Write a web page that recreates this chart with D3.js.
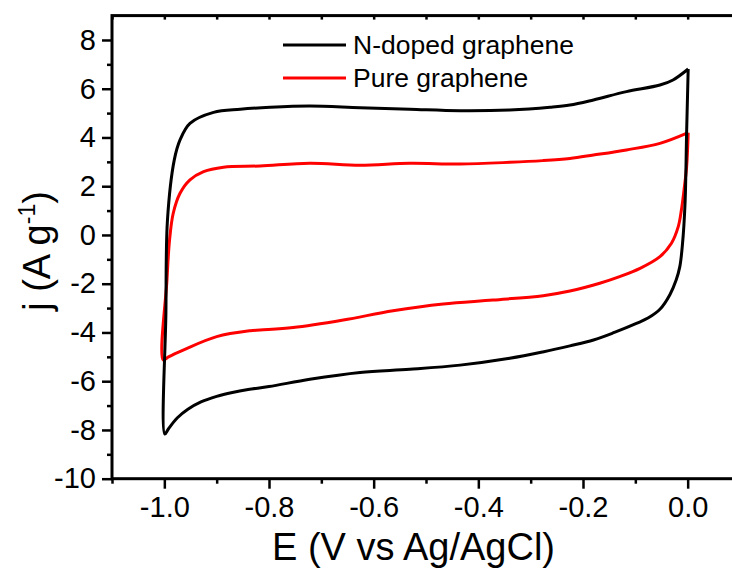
<!DOCTYPE html>
<html>
<head>
<meta charset="utf-8">
<script src="https://cdn.jsdelivr.net/npm/d3@7"></script>
<style>
  html, body { margin: 0; padding: 0; background: #fff; }
  svg { display: block; }
  text { font-family: "Liberation Sans", Arial, sans-serif; fill: #000; }
</style>
</head>
<body>
<svg id="chart" width="732" height="569"></svg>
<script>
// ---- data (E in V vs Ag/AgCl, j in A/g) ----
const seriesNames = ["N-doped graphene", "Pure graphene"];
const seriesColors = ["#000000", "#ff0000"];

const nDopedE = [0.001, -0.002, -0.005, -0.010, -0.015, -0.022, -0.034, -0.053, -0.075, -0.098, -0.14, -0.18, -0.225, -0.277, -0.34, -0.435, -0.531, -0.626, -0.722, -0.80, -0.84, -0.87, -0.9, -0.93, -0.955, -0.975, -0.992, -0.999, -0.997, -0.994, -0.981, -0.970, -0.951, -0.906, -0.855, -0.798, -0.722, -0.626, -0.531, -0.435, -0.340, -0.263, -0.225, -0.18, -0.117, -0.053, -0.028, 0.001];
const nDopedJ = [6.81, 4.2, 1.3, -0.4, -1.3, -1.85, -2.45, -3.05, -3.4, -3.63, -4.0, -4.31, -4.55, -4.8, -5.06, -5.34, -5.51, -5.64, -5.92, -6.22, -6.34, -6.46, -6.62, -6.85, -7.15, -7.5, -7.95, -8.17, -3.21, 0.62, 3.08, 3.9, 4.58, 5.03, 5.16, 5.24, 5.29, 5.22, 5.16, 5.10, 5.13, 5.24, 5.33, 5.54, 5.88, 6.15, 6.36, 6.81];

const pureE = [0.001, -0.002, -0.007, -0.012, -0.018, -0.031, -0.053, -0.091, -0.130, -0.168, -0.225, -0.276, -0.372, -0.467, -0.563, -0.658, -0.754, -0.817, -0.836, -0.9, -0.964, -0.992, -1.002, -0.995, -0.990, -0.983, -0.970, -0.951, -0.925, -0.887, -0.817, -0.722, -0.626, -0.531, -0.435, -0.340, -0.277, -0.225, -0.180, -0.117, -0.053, 0.001];
const pureJ = [4.2, 2.8, 1.84, 1.02, 0.34, -0.34, -0.89, -1.37, -1.71, -1.98, -2.30, -2.49, -2.67, -2.83, -3.11, -3.49, -3.80, -3.9, -3.93, -4.17, -4.72, -5.0, -5.13, -1.85, -0.2, 0.89, 1.71, 2.26, 2.60, 2.78, 2.83, 2.94, 2.86, 2.94, 2.91, 2.98, 3.05, 3.14, 3.28, 3.49, 3.76, 4.2];

const xMajorTicks = [-1.0, -0.8, -0.6, -0.4, -0.2, 0.0];
const xMinorTicks = [-1.1, -0.9, -0.7, -0.5, -0.3, -0.1, 0.1];
const yMajorTicks = [8, 6, 4, 2, 0, -2, -4, -6, -8, -10];
const yMinorTicks = [7, 5, 3, 1, -1, -3, -5, -7, -9];
const xDomain = [-1.1, 0.1];
const yDomain = [-10, 9];
const xTitle = "E (V vs Ag/AgCl)";

// ---- layout ----
const mLeft = 112, mRight = 740, mTop = 15.6, mBottom = 478.7;
const svg = d3.select("#chart");
const x = d3.scaleLinear().domain(xDomain).range([mLeft, mRight]);
const y = d3.scaleLinear().domain(yDomain).range([mBottom, mTop]);

const fmtX = d => d.toFixed(1);
const fmtY = d => String(d);

const gxB = svg.append("g").attr("transform", `translate(0,${mBottom})`)
  .call(d3.axisBottom(x).tickValues(xMajorTicks).tickFormat(fmtX).tickSize(10).tickPadding(8));
const gxBm = svg.append("g").attr("transform", `translate(0,${mBottom})`)
  .call(d3.axisBottom(x).tickValues(xMinorTicks).tickFormat("").tickSize(5));
const gxT = svg.append("g").attr("transform", `translate(0,${mTop})`)
  .call(d3.axisBottom(x).tickValues(xMajorTicks.concat(xMinorTicks)).tickFormat("").tickSize(4));
const gyL = svg.append("g").attr("transform", `translate(${mLeft},0)`)
  .call(d3.axisLeft(y).tickValues(yMajorTicks).tickFormat(fmtY).tickSize(10).tickPadding(6));
const gyLm = svg.append("g").attr("transform", `translate(${mLeft},0)`)
  .call(d3.axisLeft(y).tickValues(yMinorTicks).tickFormat("").tickSize(5));
const gyR = svg.append("g").attr("transform", `translate(${mRight},0)`)
  .call(d3.axisLeft(y).tickValues(yMajorTicks.concat(yMinorTicks)).tickFormat("").tickSize(4));

[gxB, gxBm, gxT, gyL, gyLm, gyR].forEach(g => {
  g.select(".domain").remove();
  g.selectAll(".tick line").attr("stroke", "#000").attr("stroke-width", 2.5);
});
gxB.selectAll(".tick text").attr("font-size", 29).attr("font-family", "Liberation Sans, Arial, sans-serif").attr("fill", "#000");
gyL.selectAll(".tick text").attr("font-size", 29).attr("font-family", "Liberation Sans, Arial, sans-serif").attr("fill", "#000");

// frame
svg.append("rect")
  .attr("x", mLeft).attr("y", mTop)
  .attr("width", mRight - mLeft).attr("height", mBottom - mTop)
  .attr("fill", "none").attr("stroke", "#000").attr("stroke-width", 3);

// curves
const line = d3.line()
  .x(d => x(d[0])).y(d => y(d[1]))
  .curve(d3.curveCatmullRom.alpha(0.5));

const series = [
  { name: seriesNames[1], color: seriesColors[1], pts: pureE.map((e, i) => [e, pureJ[i]]) },
  { name: seriesNames[0], color: seriesColors[0], pts: nDopedE.map((e, i) => [e, nDopedJ[i]]) }
];
svg.append("g").selectAll("path").data(series).join("path")
  .attr("d", d => line(d.pts))
  .attr("fill", "none")
  .attr("stroke", d => d.color)
  .attr("stroke-width", 3)
  .attr("stroke-linejoin", "round");

// legend
const legend = svg.append("g");
seriesNames.forEach((name, i) => {
  const ly = 45 + i * 33;
  legend.append("line")
    .attr("x1", 283).attr("x2", 346).attr("y1", ly).attr("y2", ly)
    .attr("stroke", seriesColors[i]).attr("stroke-width", 3);
  legend.append("text")
    .attr("x", 353).attr("y", ly + 8.5)
    .attr("font-size", 26.5)
    .text(name);
});

// axis titles
svg.append("text")
  .attr("x", 413.5).attr("y", 560)
  .attr("text-anchor", "middle")
  .attr("font-size", 38)
  .text(xTitle);

const yt = svg.append("text")
  .attr("transform", "translate(50,251) rotate(-90)")
  .attr("text-anchor", "middle")
  .attr("font-size", 38);
yt.append("tspan").text("j (A g");
yt.append("tspan").attr("font-size", 23).attr("dy", -15).text("-1");
yt.append("tspan").attr("dy", 15).text(")");
</script>
</body>
</html>
